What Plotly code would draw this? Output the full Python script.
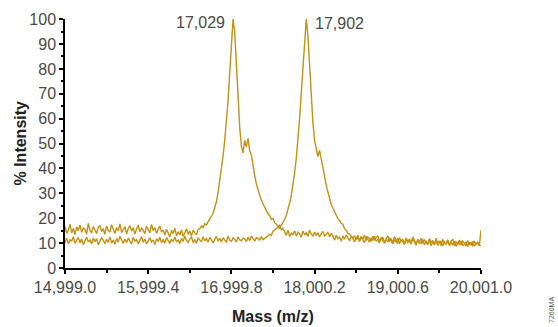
import plotly.graph_objects as go

# ---------------- data ----------------
n_points = 251
mass_start = 14999.0
mass_end = 20001.0
mass = [mass_start + (mass_end - mass_start) * i / (n_points - 1) for i in range(n_points)]

# Spectrum with the peak at 17,029
intensity_a = [
    16.8, 13.9, 15.2, 17.6, 14.1, 15.9, 13.4, 16.5, 15.0, 17.2,
    14.3, 16.1, 15.5, 13.6, 17.9, 15.2, 14.0, 16.7, 15.3, 13.8,
    16.4, 17.1, 14.6, 15.8, 13.5, 16.9, 15.1, 14.4, 17.4, 15.6,
    13.9, 16.2, 15.0, 17.7, 14.2, 15.4, 16.6, 13.7, 15.9, 17.0,
    14.8, 16.3, 13.6, 15.7, 17.3, 14.5, 16.0, 15.2, 13.8, 16.8,
    15.4, 14.1, 17.5, 15.0, 16.2, 13.9, 15.6, 16.9, 14.4, 15.3,
    13.2, 15.6, 14.0, 12.5, 15.1, 13.8, 16.0, 12.9, 14.6, 13.4,
    15.3, 12.7, 14.2, 15.8, 13.5, 14.9, 12.8, 15.2, 14.1, 13.3, 15.5,
    15.8, 16.9, 16.2, 17.8, 17.3, 18.6,
    19.5, 20.8, 22.0, 24.3, 26.6, 30.4, 34.8, 40.2, 45.1, 51.5,
    58.0, 67.3, 78.5, 90.2, 100.0, 94.6, 80.3, 66.1, 56.4, 49.0,
    46.2, 51.3, 48.7, 52.1, 47.0, 45.4, 40.6, 37.2, 33.8, 31.1,
    29.3, 27.2, 25.8, 24.1, 23.4, 21.8, 21.1, 19.6, 19.9, 18.2,
    17.6, 16.5, 17.2, 15.4, 15.9,
    14.6, 13.1, 15.2, 12.6, 14.0, 13.4, 15.0, 12.8, 14.4, 13.7,
    12.4, 14.9, 13.2, 14.1, 12.7, 15.3, 13.6, 12.9, 14.5, 13.0,
    14.2, 12.5, 13.8, 14.7, 12.9, 13.5, 14.3, 12.6, 13.9,
    12.8, 11.2, 13.1, 11.7, 12.4, 10.8, 12.9, 11.5, 13.3, 12.0,
    10.9, 12.6, 11.8, 13.0, 11.3, 12.2, 10.7, 12.7, 11.6, 13.2,
    11.1, 12.4, 11.9, 10.8, 12.8, 11.4, 12.1, 13.0, 10.9, 11.8,
    12.4, 10.3, 11.8, 13.0, 10.6, 11.9, 10.1, 12.6, 11.2, 9.8,
    12.2, 10.9, 11.5, 9.6, 12.1, 10.4, 11.7, 10.0, 12.5, 10.8,
    9.5, 11.6, 10.2, 12.0, 9.9, 11.3, 10.6, 9.3, 11.8, 10.4,
    11.0, 9.2, 12.0, 10.1, 10.9, 9.0, 11.5, 10.3, 9.6, 11.4,
    9.4, 10.7, 11.6, 8.9, 10.5, 9.7, 11.2, 9.1, 10.8, 10.0,
    8.8, 11.0, 9.5, 10.4, 8.7, 10.9, 9.3, 10.2, 9.0,
    15.2,
]

# Spectrum with the peak at 17,902
intensity_b = [
    10.2, 12.1, 9.6, 11.4, 10.8, 12.6, 9.9, 11.0, 12.3, 10.1,
    11.7, 9.4, 10.9, 12.4, 10.5, 11.3, 9.7, 12.0, 10.6, 11.8,
    9.3, 10.7, 12.2, 11.1, 9.8, 11.5, 10.3, 12.5, 10.0, 11.2,
    9.5, 11.9, 10.4, 12.7, 10.9, 9.9, 11.6, 10.2, 12.0, 11.0,
    9.6, 12.3, 10.8, 11.4, 9.8, 11.1, 12.6, 10.3, 11.7, 9.7,
    10.9, 12.1, 10.5, 11.3, 9.4, 11.8, 10.7, 12.4, 10.1, 11.5,
    10.0, 12.2, 11.0, 9.9, 11.6, 10.6, 12.5, 10.4, 11.2, 9.8,
    11.9, 10.7, 12.8, 11.1, 10.3, 11.7, 12.4, 10.2, 11.4, 9.9,
    12.0, 11.3, 10.6, 12.6, 10.9, 11.8, 10.4, 12.3, 11.0, 10.1,
    11.5, 12.7, 10.8, 11.9, 10.5, 12.2, 11.2, 10.3, 12.9, 11.1,
    10.7, 12.1, 11.6, 10.4, 12.5, 11.3, 10.9, 12.0, 11.7, 10.6,
    12.4, 11.0, 12.8, 11.5, 10.8, 12.2, 11.9, 11.2, 12.6, 11.4,
    12.1,
    12.4, 12.9, 13.6, 13.2, 14.8, 15.3, 15.9, 16.4, 16.0, 17.2,
    18.1, 19.6, 21.2, 23.4, 26.1, 29.3, 33.0, 38.2, 44.1, 51.0,
    60.2, 70.4, 81.0, 92.3, 100.0, 93.1, 80.2, 68.0, 58.3, 51.2,
    47.1, 44.8, 47.3, 44.2, 41.0, 36.8, 33.1, 30.2, 27.6, 25.4,
    24.1, 22.3, 21.2, 19.8, 19.1, 17.9, 17.6, 15.8, 15.2, 13.9,
    13.6, 12.8,
    12.2, 10.6, 11.9, 13.1, 10.9, 12.4, 11.3, 10.2, 12.7, 11.5,
    10.4, 12.0, 11.1, 12.8, 10.7, 11.6, 10.0, 12.3, 11.2, 9.9,
    11.8, 10.5, 12.1, 10.8, 9.7, 11.4, 10.3, 12.0, 9.8, 11.1,
    10.6, 9.4, 11.7, 10.2, 11.0, 9.6, 12.0, 10.4, 9.2, 11.3,
    10.1, 9.8, 11.5, 9.3, 10.7, 10.0, 11.2, 8.9, 10.6, 9.5,
    11.0, 9.1, 10.3, 10.9, 8.8, 10.4, 9.7, 11.1, 9.0, 10.2,
    9.4, 10.8, 8.7, 10.1, 9.6, 10.9, 8.9, 9.9, 10.5, 8.6,
    10.3, 9.2, 10.7, 8.8, 9.8, 10.4, 9.1, 9.0,
]

x_major_ticks = [14999.0, 15999.4, 16999.8, 18000.2, 19000.6, 20001.0]
x_major_labels = ["14,999.0", "15,999.4", "16,999.8", "18,000.2", "19,000.6", "20,001.0"]
x_minor_ticks = [15499.2, 16499.6, 17500.0, 18500.4, 19500.8]
y_major_ticks = [0, 10, 20, 30, 40, 50, 60, 70, 80, 90, 100]
y_minor_ticks = [5, 15, 25, 35, 45, 55, 65, 75, 85, 95]

peak_masses = [17029, 17902]
peak_labels = ["17,029", "17,902"]

# ---------------- figure ----------------
line_color = "#C69214"
tick_font = dict(family="Liberation Sans, Arial, sans-serif", size=16, color="#4a4a4a")
title_font = dict(family="Liberation Sans, Arial, sans-serif", size=16, color="#222222")

fig = go.Figure()
fig.add_trace(go.Scatter(x=mass, y=intensity_b, mode="lines",
                         line=dict(color=line_color, width=1.4), showlegend=False,
                         hoverinfo="skip"))
fig.add_trace(go.Scatter(x=mass, y=intensity_a, mode="lines",
                         line=dict(color=line_color, width=1.4), showlegend=False,
                         hoverinfo="skip"))

fig.update_layout(
    width=558, height=327,
    margin=dict(l=65, r=77, t=19, b=59),
    plot_bgcolor="white", paper_bgcolor="white",
    showlegend=False,
)

fig.update_xaxes(
    range=[14998.9, 20001.1],
    showgrid=False, zeroline=False,
    showline=True, linecolor="black", linewidth=1.5,
    tickmode="array", tickvals=x_major_ticks, ticktext=x_major_labels,
    ticks="outside", ticklen=4, tickwidth=1.5, tickcolor="black",
    tickfont=tick_font,
    minor=dict(tickmode="array", tickvals=x_minor_ticks, ticks="outside",
               ticklen=3, tickwidth=1.5, tickcolor="black"),
)
fig.update_yaxes(
    range=[0, 100.05],
    showgrid=False, zeroline=False,
    showline=True, linecolor="black", linewidth=1.5,
    tickmode="array", tickvals=y_major_ticks,
    ticks="outside", ticklen=4, tickwidth=1.5, tickcolor="black",
    tickfont=tick_font,
    minor=dict(tickmode="array", tickvals=y_minor_ticks, ticks="outside",
               ticklen=2, tickwidth=1.5, tickcolor="black"),
)

# peak labels
fig.add_annotation(x=peak_masses[0], y=100, text=peak_labels[0], showarrow=False,
                   xanchor="right", yanchor="middle", xshift=-7, yshift=-3, font=tick_font)
fig.add_annotation(x=peak_masses[1], y=100, text=peak_labels[1], showarrow=False,
                   xanchor="left", yanchor="middle", xshift=7, yshift=-4, font=tick_font)

# axis titles
fig.add_annotation(xref="paper", yref="paper", x=(20 - 65) / 416, y=0.5,
                   text="<b>% Intensity</b>", textangle=-90, showarrow=False,
                   xanchor="center", yanchor="middle", font=title_font)
fig.add_annotation(xref="paper", yref="paper", x=0.5, y=(268 - 316) / 249,
                   text="<b>Mass (m/z)</b>", showarrow=False,
                   xanchor="center", yanchor="middle", font=title_font)

# figure code
fig.add_annotation(xref="paper", yref="paper", x=(552 - 65) / 416, y=(268 - 310) / 249,
                   text="7260MA", textangle=-90, showarrow=False,
                   xanchor="center", yanchor="middle",
                   font=dict(family="Liberation Sans, Arial, sans-serif", size=7, color="#555555"))

fig.write_html("out.html", config={"displayModeBar": False},
               post_script="document.body.style.margin='0';")
